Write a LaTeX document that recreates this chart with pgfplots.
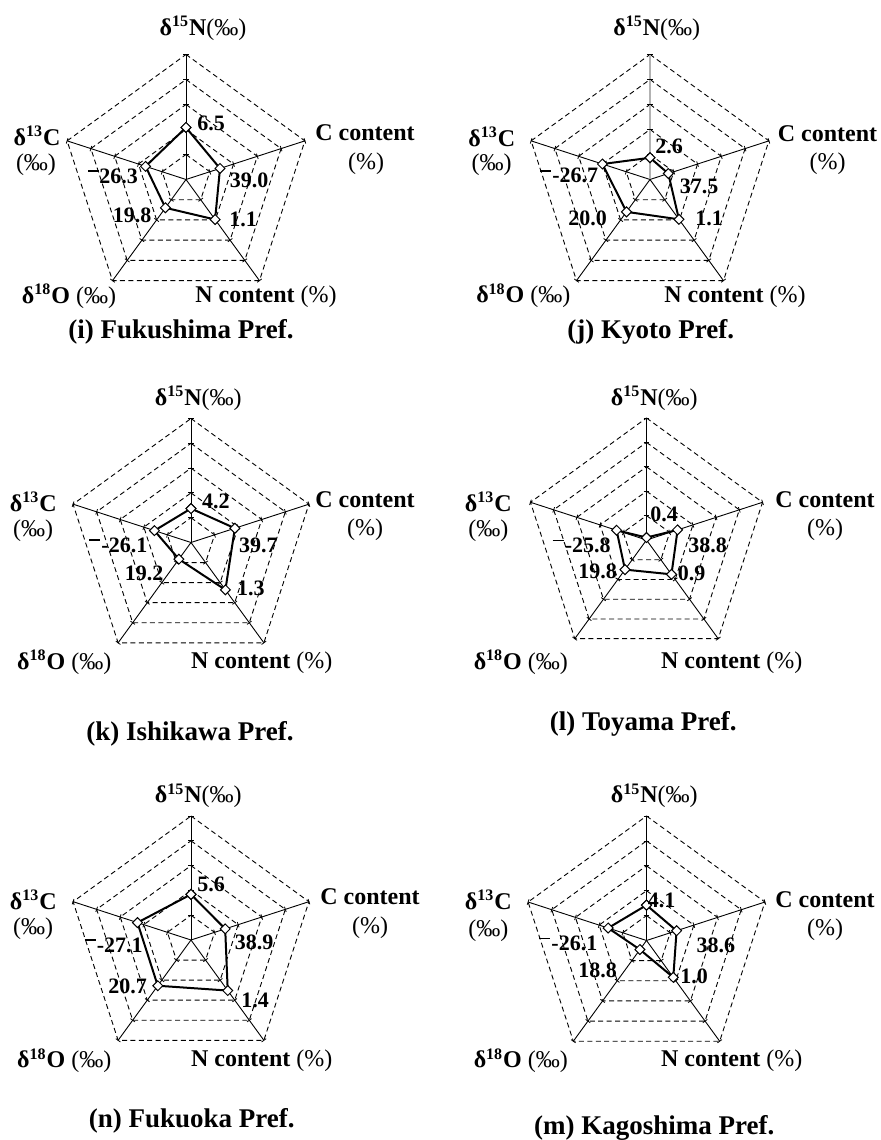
\documentclass[border=0pt]{standalone}
\usepackage{fontspec}
\setmainfont{Liberation Serif}
\usepackage{pgfplots}
\pgfplotsset{compat=1.18}
\usepgfplotslibrary{polar}

\pgfplotsset{
  radar/.style={anchor=center, scale only axis, hide axis, clip=false,
    ymin=0, ymax=5, xmin=0, xmax=360},
  ring/.style={black, line width=0.45pt, dash pattern=on 2.5pt off 1.7pt, no marks},
  spoke/.style={black, line width=0.45pt, no marks},
  tick/.style={black, only marks, mark=|, mark size=1.4pt, mark options={solid, line width=0.45pt}},
  data/.style={black, line width=1pt, mark=square*, mark size=1.75pt,
    mark options={solid, rotate=45, fill=white, draw=black, line width=0.5pt}},
}

\newcommand\radarframe{%
  \pgfplotsinvokeforeach{1,2,3,4,5}{\addplot[ring] coordinates {(90,##1) (18,##1) (306,##1) (234,##1) (162,##1) (90,##1)};}
  \pgfplotsinvokeforeach{90,18,306,234,162}{%
    \addplot[spoke] coordinates {(##1,0) (##1,5)};
    \addplot[tick, mark options={rotate=##1}] coordinates {(##1,1) (##1,2) (##1,3) (##1,4) (##1,5)};}
}

\newcommand\lbl[3]{\node[inner sep=0pt] at ({#1*0.5pt},{(1140-#2)*0.5pt}) {#3};}
\newcommand\catfont{\fontsize{12}{14}\selectfont\bfseries}
\newcommand\valfont{\fontsize{11}{13}\selectfont\bfseries}
\newcommand\titfont{\fontsize{13.5}{16}\selectfont\bfseries}
\newcommand\permil{\textmd{(‰)}}
\newcommand\pct{\textmd{(\%)}}
\newcommand\dN{δ\textsuperscript{15}N\permil}
\newcommand\dC{δ\textsuperscript{13}C}
\newcommand\dO{δ\textsuperscript{18}O \permil}
\newcommand\negbar{\rule[0.5em]{0.5em}{0.075em}}

\begin{document}
\begin{tikzpicture}
\path[use as bounding box] (0pt,0pt) rectangle (440.5pt,570pt);

% (i) Fukushima
\begin{polaraxis}[radar, at={(93pt,480.25pt)}, width=125pt, height=125pt]
\radarframe
\addplot[data] coordinates {(90,2.08) (18,1.43) (306,1.98) (234,1.40) (162,1.70) (90,2.08)};
\end{polaraxis}
\lbl{203}{28}{\catfont\dN}
\lbl{365}{133}{\catfont C content}
\lbl{366}{164}{\catfont\pct}
\lbl{37}{136}{\catfont\dC}
\lbl{36}{165}{\catfont\permil}
\lbl{69}{296}{\catfont\dO}
\lbl{266}{297}{\catfont N content \pct}
\lbl{181}{332}{\titfont (i) Fukushima Pref.}
\lbl{211}{123}{\valfont 6.5}
\lbl{249}{180}{\valfont 39.0}
\lbl{243}{219}{\valfont 1.1}
\lbl{132}{215}{\valfont 19.8}
\lbl{113}{176}{\valfont\negbar26.3}

% (j) Kyoto
\begin{polaraxis}[radar, at={(325pt,480.25pt)}, width=125pt, height=125pt]
\radarframe
\addplot[gray!60, line width=0.8pt, no marks] coordinates {(90,0) (90,5)};
\addplot[tick, mark options={rotate=90}] coordinates {(90,1) (90,2) (90,3) (90,4) (90,5)};
\addplot[data] coordinates {(90,0.87) (18,0.77) (306,1.97) (234,1.60) (162,2.00) (90,0.87)};
\end{polaraxis}
\lbl{656.7}{28.3}{\catfont\dN}
\lbl{827.5}{133.7}{\catfont C content}
\lbl{827.5}{164}{\catfont\pct}
\lbl{491.7}{136.7}{\catfont\dC}
\lbl{491.7}{165}{\catfont\permil}
\lbl{523.3}{295.8}{\catfont\dO}
\lbl{735}{296.7}{\catfont N content \pct}
\lbl{650.8}{331.7}{\titfont (j) Kyoto Pref.}
\lbl{669.2}{146.7}{\valfont 2.6}
\lbl{699.2}{186.7}{\valfont 37.5}
\lbl{709.2}{218.3}{\valfont 1.1}
\lbl{587.5}{218.3}{\valfont 20.0}
\lbl{569.2}{175.8}{\valfont\negbar\kern0.05em-26.7}

% (k) Ishikawa
\begin{polaraxis}[radar, at={(95.5pt,298.75pt)}, width=124pt, height=124pt]
\radarframe
\addplot[data] coordinates {(90,1.37) (18,1.86) (306,2.36) (234,0.83) (162,1.55) (90,1.37)};
\end{polaraxis}
\lbl{198.3}{398.3}{\catfont\dN}
\lbl{365}{500}{\catfont C content}
\lbl{365}{530}{\catfont\pct}
\lbl{33.3}{501.7}{\catfont\dC}
\lbl{33}{530.8}{\catfont\permil}
\lbl{64.2}{662.5}{\catfont\dO}
\lbl{261.7}{662.5}{\catfont N content \pct}
\lbl{190}{734}{\titfont (k) Ishikawa Pref.}
\lbl{215.8}{501.7}{\valfont 4.2}
\lbl{258.3}{545}{\valfont 39.7}
\lbl{250.8}{588.3}{\valfont 1.3}
\lbl{144.2}{573.3}{\valfont 19.2}
\lbl{118.3}{545}{\valfont\negbar\kern0.05em-26.1}

% (l) Toyama
\begin{polaraxis}[radar, at={(323.25pt,300pt)}, width=122pt, height=122pt]
\radarframe
\addplot[data] coordinates {(90,0.10) (18,1.34) (306,1.74) (234,1.50) (162,1.29) (90,0.10)};
\end{polaraxis}
\lbl{654.2}{398.3}{\catfont\dN}
\lbl{825}{500}{\catfont C content}
\lbl{825}{530}{\catfont\pct}
\lbl{488.3}{501.7}{\catfont\dC}
\lbl{488.3}{530.8}{\catfont\permil}
\lbl{520.8}{662.5}{\catfont\dO}
\lbl{731.7}{662.5}{\catfont N content \pct}
\lbl{643.3}{724}{\titfont (l) Toyama Pref.}
\lbl{664.2}{514.2}{\valfont 0.4}
\lbl{707.5}{545}{\valfont 38.8}
\lbl{691.7}{573.3}{\valfont 0.9}
\lbl{597.5}{571.7}{\valfont 19.8}
\lbl{581.7}{545}{\valfont\negbar\kern0.05em-25.8}

% (n) Fukuoka
\begin{polaraxis}[radar, at={(95.5pt,100pt)}, width=124pt, height=124pt]
\radarframe
\addplot[data] coordinates {(90,1.84) (18,1.45) (306,2.52) (234,2.28) (162,2.27) (90,1.84)};
\end{polaraxis}
\lbl{198.3}{795.8}{\catfont\dN}
\lbl{370}{896.7}{\catfont C content}
\lbl{370}{927.5}{\catfont\pct}
\lbl{33.3}{900}{\catfont\dC}
\lbl{33}{929.2}{\catfont\permil}
\lbl{64.2}{1060.8}{\catfont\dO}
\lbl{261.7}{1060.8}{\catfont N content \pct}
\lbl{191.7}{1120.8}{\titfont (n) Fukuoka Pref.}
\lbl{211}{884.2}{\valfont 5.6}
\lbl{254.2}{942.5}{\valfont 38.9}
\lbl{255}{1000}{\valfont 1.4}
\lbl{127.5}{986.7}{\valfont 20.7}
\lbl{113.7}{945}{\valfont\negbar\kern0.05em-27.1}

% (m) Kagoshima
\begin{polaraxis}[radar, at={(323.25pt,99.75pt)}, width=124.5pt, height=124.5pt]
\radarframe
\addplot[data] coordinates {(90,1.42) (18,1.27) (306,1.83) (234,0.45) (162,1.62) (90,1.42)};
\end{polaraxis}
\lbl{654.2}{795.8}{\catfont\dN}
\lbl{825}{900}{\catfont C content}
\lbl{825}{930}{\catfont\pct}
\lbl{488.3}{900}{\catfont\dC}
\lbl{488.3}{930.8}{\catfont\permil}
\lbl{520.8}{1060.8}{\catfont\dO}
\lbl{731.7}{1060.8}{\catfont N content \pct}
\lbl{654.2}{1128.3}{\titfont (m) Kagoshima Pref.}
\lbl{661.7}{900}{\valfont 4.1}
\lbl{715.8}{945}{\valfont 38.6}
\lbl{694.2}{976.7}{\valfont 1.0}
\lbl{597.5}{970}{\valfont 18.8}
\lbl{568.3}{943.3}{\valfont\negbar\kern0.05em-26.1}
\end{tikzpicture}
\end{document}
